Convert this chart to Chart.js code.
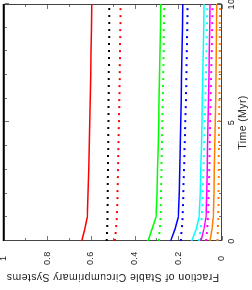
<!DOCTYPE html>
<html>
<head>
<meta charset="utf-8">
<script src="https://cdn.jsdelivr.net/npm/chart.js@4.4.1/dist/chart.umd.min.js"></script>
<style>
  html, body { margin: 0; padding: 0; background: #fff; overflow: hidden; }
  /* the figure is drawn upright, then turned a quarter turn to the left */
  #wrap {
    position: absolute; left: 0; top: 0;
    width: 290px; height: 252px;
    transform-origin: 0 0;
    transform: translate(0, 290px) rotate(-90deg);
  }
</style>
</head>
<body>
<div id="wrap"><canvas id="stable" width="290" height="252"></canvas></div>
<script>
// time in Myr
const times = [0, 0.5, 1, 2, 3, 4, 5, 6, 7, 8, 9, 10];

// fraction of stable circumprimary systems
const blackSolid   = [1, 1, 1, 1, 1, 1, 1, 1, 1, 1, 1, 1];
const redSolid     = [0.642, 0.628, 0.617, 0.613, 0.610, 0.607, 0.605, 0.603, 0.601, 0.599, 0.597, 0.596];
const blackDotted  = [0.528, 0.526, 0.524, 0.523, 0.522, 0.521, 0.520, 0.519, 0.518, 0.517, 0.516, 0.516];
const redDotted    = [0.490, 0.485, 0.481, 0.478, 0.476, 0.474, 0.472, 0.470, 0.468, 0.467, 0.465, 0.464];
const greenSolid   = [0.339, 0.320, 0.302, 0.298, 0.295, 0.292, 0.290, 0.288, 0.286, 0.284, 0.282, 0.280];
const greenDotted  = [0.289, 0.285, 0.281, 0.279, 0.277, 0.275, 0.273, 0.271, 0.269, 0.267, 0.266, 0.264];
const blueSolid    = [0.235, 0.215, 0.200, 0.196, 0.193, 0.191, 0.189, 0.187, 0.185, 0.183, 0.181, 0.180];
const blueDotted   = [0.189, 0.184, 0.180, 0.177, 0.174, 0.171, 0.168, 0.165, 0.163, 0.161, 0.159, 0.157];
const cyanSolid    = [0.139, 0.118, 0.105, 0.100, 0.097, 0.094, 0.092, 0.090, 0.088, 0.086, 0.084, 0.082];
const cyanDotted   = [0.105, 0.098, 0.092, 0.088, 0.085, 0.082, 0.079, 0.076, 0.074, 0.071, 0.069, 0.067];
const magentaSolid = [0.096, 0.083, 0.073, 0.070, 0.068, 0.066, 0.064, 0.062, 0.060, 0.058, 0.056, 0.055];
const magentaDotted= [0.073, 0.068, 0.064, 0.061, 0.058, 0.056, 0.054, 0.052, 0.050, 0.047, 0.045, 0.043];
const orangeSolid  = [0.055, 0.046, 0.040, 0.037, 0.035, 0.033, 0.031, 0.029, 0.028, 0.026, 0.025, 0.024];
const orangeDotted = [0.021, 0.019, 0.017, 0.016, 0.015, 0.014, 0.013, 0.012, 0.011, 0.010, 0.010, 0.009];

const xLabels = [0, 5, 10];

const FONT = "'Liberation Sans', Arial, sans-serif";

function series(vals, color, dotted) {
  return {
    data: times.map((t, i) => ({ x: t, y: vals[i] })),
    borderColor: color,
    borderWidth: dotted ? 2 : 1.5,
    borderDash: dotted ? [2, 5] : [],
    pointRadius: 0,
    tension: 0,
    fill: false,
    clip: false
  };
}

// gnuplot style box with inward ticks on all four sides
const frame = {
  id: "frame",
  beforeDraw(chart) {
    // old postscript text is a little wider spaced
    chart.ctx.letterSpacing = "0.4px";
  },
  beforeDatasetsDraw(chart) {
    const { ctx, chartArea: a } = chart;
    const xs = chart.scales.x, ys = chart.scales.y;
    const L = Math.round(a.left) + 0.5, R = Math.round(a.right) - 0.5;
    const T = Math.round(a.top) + 0.5, B = Math.round(a.bottom) - 0.5;
    ctx.save();
    ctx.strokeStyle = "#777";
    ctx.lineWidth = 1;
    ctx.beginPath();
    for (let t = 0; t <= 10; t++) {
      const px = Math.round(xs.getPixelForValue(t)) + 0.5;
      const len = xLabels.includes(t) ? 4.5 : 2.5;
      ctx.moveTo(px, B); ctx.lineTo(px, B - len);
      ctx.moveTo(px, T); ctx.lineTo(px, T + len);
    }
    for (let k = 0; k <= 10; k++) {
      const py = Math.round(ys.getPixelForValue(k / 10)) + 0.5;
      const len = k % 2 === 0 ? 4.5 : 2.5;
      ctx.moveTo(L, py); ctx.lineTo(L + len, py);
      ctx.moveTo(R, py); ctx.lineTo(R - len, py);
    }
    ctx.stroke();
    ctx.strokeStyle = "#444";
    ctx.strokeRect(L, T, R - L, B - T);
    ctx.restore();
  }
};

new Chart(document.getElementById("stable"), {
  type: "line",
  data: {
    datasets: [
      series(blackSolid, "#000000", false),
      series(redSolid, "#ff0000", false),
      series(blackDotted, "#000000", true),
      series(redDotted, "#ff0000", true),
      series(greenSolid, "#00ff00", false),
      series(greenDotted, "#00ff00", true),
      series(blueSolid, "#0000ff", false),
      series(blueDotted, "#0000ff", true),
      series(cyanSolid, "#00ffff", false),
      series(cyanDotted, "#00ffff", true),
      series(magentaSolid, "#ff00ff", false),
      series(magentaDotted, "#ff00ff", true),
      series(orangeSolid, "#ff8000", false),
      series(orangeDotted, "#ff8000", true)
    ]
  },
  options: {
    responsive: false,
    animation: false,
    events: [],
    layout: { padding: { top: 3.5, right: 4, left: 0, bottom: 0 } },
    plugins: { legend: { display: false }, tooltip: { enabled: false } },
    scales: {
      x: {
        type: "linear", min: 0, max: 10,
        grid: { display: false, drawTicks: false },
        border: { display: false },
        ticks: {
          stepSize: 1, padding: 4, color: "#222", maxRotation: 0,
          font: { family: FONT, size: 9 },
          callback: (v) => xLabels.includes(v) ? String(v) : ""
        },
        title: {
          display: true, text: "Time (Myr)", color: "#222",
          font: { family: FONT, size: 10.5 },
          padding: { top: 0, bottom: 3 }
        },
        afterFit(s) { s.height = 30; s.paddingLeft = 0; s.paddingRight = 0; }
      },
      y: {
        type: "linear", min: 0, max: 1,
        grid: { display: false, drawTicks: false },
        border: { display: false },
        ticks: {
          stepSize: 0.1, padding: 11, color: "#222", crossAlign: "center",
          font: { family: FONT, size: 9 },
          callback: (v) => Math.round(v * 10) % 2 === 0 ? String(Math.round(v * 10) / 10) : ""
        },
        title: {
          display: true, text: "Fraction of Stable Circumprimary Systems", color: "#222",
          font: { family: FONT, size: 10.5 },
          padding: { top: 7, bottom: 0 }
        },
        afterFit(s) { s.width = 49; s.paddingTop = 0; s.paddingBottom = 0; }
      }
    }
  },
  plugins: [frame]
});
</script>
</body>
</html>
